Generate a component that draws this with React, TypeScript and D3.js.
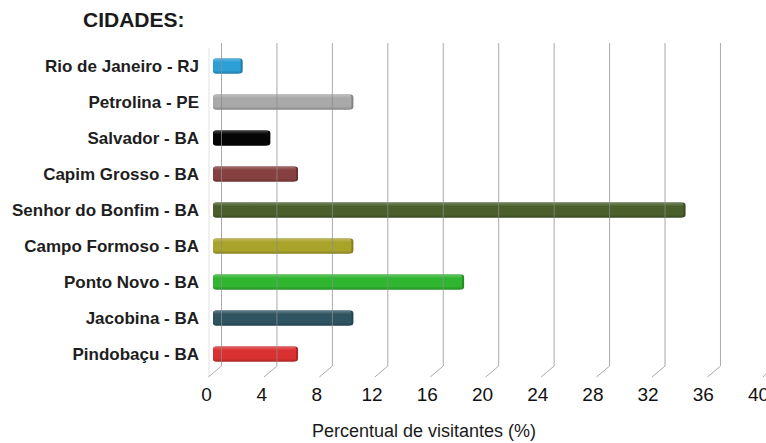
import React from "react";
import * as d3 from "d3";

const cities = [
  "Rio de Janeiro - RJ",
  "Petrolina - PE",
  "Salvador - BA",
  "Capim Grosso - BA",
  "Senhor do Bonfim - BA",
  "Campo Formoso - BA",
  "Ponto Novo - BA",
  "Jacobina - BA",
  "Pindobaçu - BA",
];
const values = [2, 10, 4, 6, 34, 10, 18, 10, 6];
const colors = [
  "#2b9fd6",
  "#a9a9a9",
  "#050505",
  "#86403f",
  "#4a5f2c",
  "#a9a32a",
  "#2fb52f",
  "#2f5461",
  "#d93131",
];
const ticks = [0, 4, 8, 12, 16, 20, 24, 28, 32, 36, 40];
const title = "CIDADES:";
const axisTitle = "Percentual de visitantes (%)";

const W = 766;
const H = 443;

export default function App() {
  const xBack = d3.scaleLinear().domain([0, 40]).range([221.5, 221.5 + 40 * 13.86]);
  const xLabel = d3.scaleLinear().domain([0, 40]).range([206.5, 206.5 + 40 * 13.8]);
  const xBar = d3.scaleLinear().domain([0, 40]).range([213, 213 + 40 * 13.84]);
  const y = d3.scaleBand<string>().domain(cities).range([48, 372]);
  const gridTop = 43;
  const gridBottom = 366;
  const depthX = -13;
  const depthY = 11;
  const barH = 15;
  const font = "'Liberation Sans', Arial, sans-serif";

  return (
    <svg
      width={W}
      height={H}
      style={{ position: "fixed", left: 0, top: 0, background: "#fff" }}
      fontFamily={font}
    >
      <defs>
        {colors.map((c, i) => {
          const base = d3.color(c)!;
          const light = d3.interpolateRgb(c, "#ffffff")(0.25);
          const dark = base.darker(0.6).formatHex();
          return (
            <linearGradient key={i} id={`g${i}`} x1="0" y1="0" x2="0" y2="1">
              <stop offset="0" stopColor={light} />
              <stop offset="0.25" stopColor={c} />
              <stop offset="0.8" stopColor={c} />
              <stop offset="1" stopColor={dark} />
            </linearGradient>
          );
        })}
      </defs>
      <rect width={W} height={H} fill="#fff" />
      <text x={83} y={27} fontSize={21} fontWeight="bold" fill="#1a1a1a">
        {title}
      </text>
      <line x1={209} x2={209} y1={48} y2={377} stroke="#e2e2e2" strokeWidth={1} />
      {cities.map((c, i) => {
        const yc = (y(c) as number) + y.bandwidth() / 2;
        const x0 = xBar(0);
        const x1 = xBar(values[i]);
        const dark = d3.color(colors[i])!.darker(0.7).formatHex();
        return (
          <g key={c}>
            <rect x={x0} y={yc - barH / 2} width={x1 - x0 + 2} height={barH} rx={3} fill={dark} />
            <rect x={x0} y={yc - barH / 2} width={x1 - x0} height={barH} rx={3} fill={`url(#g${i})`} />
          </g>
        );
      })}
      {ticks.map((t) => (
        <path
          key={t}
          d={`M${xBack(t)},${gridTop}V${gridBottom}L${xBack(t) + depthX},${gridBottom + depthY}`}
          fill="none"
          stroke="#8c8c8c"
          strokeOpacity={0.75}
          strokeWidth={1}
        />
      ))}
      {cities.map((c) => {
        const yc = (y(c) as number) + y.bandwidth() / 2;
        return (
          <text key={c} x={199} y={yc + 6} textAnchor="end" fontSize={17} fontWeight="bold" fill="#1e1e1e">
            {c}
          </text>
        );
      })}
      {ticks.map((t) => (
        <text key={t} x={xLabel(t)} y={401} textAnchor="middle" fontSize={19} fill="#111">
          {t}
        </text>
      ))}
      <text x={424} y={437} textAnchor="middle" fontSize={18} fill="#1a1a1a">
        {axisTitle}
      </text>
    </svg>
  );
}
